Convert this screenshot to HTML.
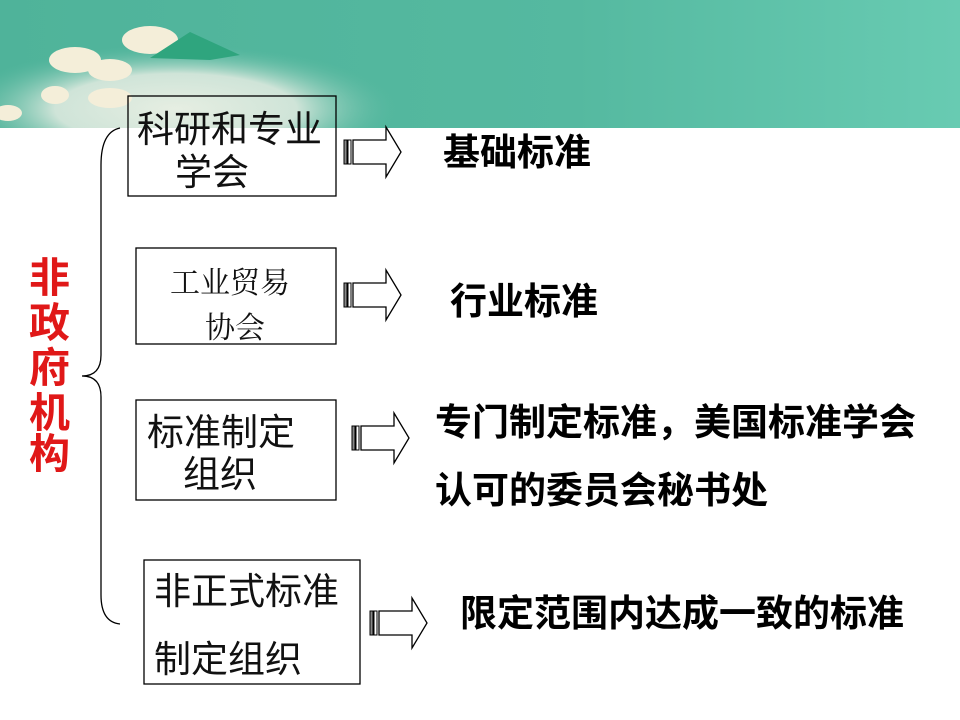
<!DOCTYPE html>
<html><head><meta charset="utf-8">
<style>
html,body{margin:0;padding:0;background:#fff;}
svg{display:block;}
.s{font-family:"Liberation Sans","Noto Sans CJK SC",sans-serif;fill:#111;}
.b{font-family:"Liberation Sans","Noto Sans CJK SC",sans-serif;font-weight:bold;fill:#000;}
.sf{font-family:"Liberation Serif","Noto Serif CJK SC",serif;fill:#111;}
</style></head>
<body>
<svg width="960" height="720" viewBox="0 0 960 720" xmlns="http://www.w3.org/2000/svg">
<defs>
<linearGradient id="ban" x1="0" y1="0" x2="1" y2="0">
<stop offset="0" stop-color="#4fb39a"/>
<stop offset="0.6" stop-color="#55b9a0"/>
<stop offset="1" stop-color="#68cbb2"/>
</linearGradient>
<radialGradient id="lamp" cx="0.4" cy="0.85" r="0.5">
<stop offset="0" stop-color="#e6eee2"/>
<stop offset="0.55" stop-color="#cfe4d8"/>
<stop offset="1" stop-color="#5fbba3" stop-opacity="0"/>
</radialGradient>
<g id="arr">
<rect x="0" y="13" width="3" height="24" fill="#888" stroke="#000" stroke-width="1"/>
<rect x="4" y="13" width="3" height="24" fill="#fff" stroke="#000" stroke-width="1"/>
<path d="M9 13 H42 V0 L57 25 L42 50 V37 H9 Z" fill="#fff" stroke="#000" stroke-width="1.3"/>
</g>
</defs>
<rect x="0" y="0" width="960" height="128" fill="url(#ban)"/>
<rect x="0" y="0" width="440" height="128" fill="url(#lamp)"/>
<ellipse cx="150" cy="40" rx="28" ry="14" fill="#f4eed9"/>
<ellipse cx="75" cy="60" rx="26" ry="13" fill="#f4eed9"/>
<ellipse cx="110" cy="70" rx="22" ry="11" fill="#f4eed9"/>
<ellipse cx="55" cy="95" rx="14" ry="9" fill="#f4eed9"/>
<ellipse cx="110" cy="98" rx="22" ry="10" fill="#f4eed9"/>
<ellipse cx="8" cy="113" rx="14" ry="8" fill="#f4eed9"/>
<polygon points="190,32 240,55 210,60 150,58" fill="#2fa57e"/>

<path d="M120 128 Q101 132 101 165 V355 Q101 376 82 376 Q101 376 101 397 V595 Q101 622 120 624" fill="none" stroke="#000" stroke-width="1.3"/>

<g style="font-family:'Liberation Sans','Noto Sans CJK SC',sans-serif;font-weight:bold;fill:#e01818;font-size:41px">
<text x="29" y="292">非</text>
<text x="29" y="337">政</text>
<text x="29" y="382">府</text>
<text x="29" y="427">机</text>
<text x="29" y="468">构</text>
</g>

<rect x="128" y="96" width="208" height="100" fill="none" stroke="#000" stroke-width="1.3"/>
<text class="s" x="137" y="142" font-size="37">科研和专业</text>
<text class="s" x="175" y="185" font-size="37">学会</text>

<rect x="136" y="248" width="200" height="96" fill="#fff" stroke="#000" stroke-width="1.3"/>
<text class="sf" x="170" y="293" font-size="30">工业贸易</text>
<text class="sf" x="205" y="338" font-size="30">协会</text>

<rect x="136" y="400" width="200" height="100" fill="#fff" stroke="#000" stroke-width="1.3"/>
<text class="s" x="147" y="445" font-size="37">标准制定</text>
<text class="s" x="183" y="487" font-size="37">组织</text>

<rect x="144" y="560" width="216" height="124" fill="#fff" stroke="#000" stroke-width="1.3"/>
<text class="s" x="154" y="604" font-size="37">非正式标准</text>
<text class="s" x="154" y="672" font-size="37">制定组织</text>

<use href="#arr" x="344" y="127"/>
<use href="#arr" x="344" y="270"/>
<use href="#arr" x="352" y="413"/>
<use href="#arr" x="370" y="598"/>

<text class="b" x="443" y="165" font-size="37">基础标准</text>
<text class="b" x="450" y="314" font-size="37">行业标准</text>
<text class="b" x="435" y="435" font-size="37">专门制定标准，美国标准学会</text>
<text class="b" x="435" y="503" font-size="37">认可的委员会秘书处</text>
<text class="b" x="460" y="626" font-size="37">限定范围内达成一致的标准</text>
</svg>
</body></html>
